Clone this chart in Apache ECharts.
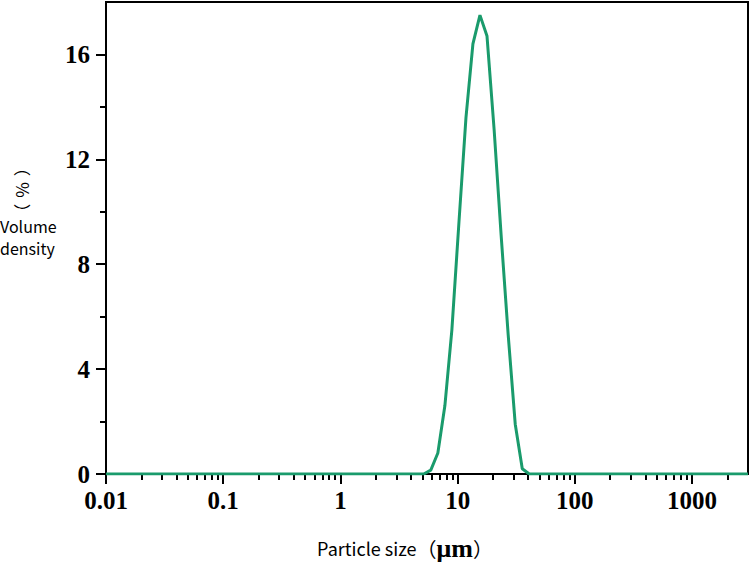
<!DOCTYPE html>
<html><head><meta charset="utf-8">
<script src="https://cdn.jsdelivr.net/npm/echarts@6/dist/echarts.min.js"></script>
<style>html,body{margin:0;padding:0;background:#fff}#c{width:750px;height:563px}</style>
</head><body><div id="c"></div>
<script>
// Particle size (µm) and volume density (%)
const sizes  = [0.01, 5.14, 5.90, 6.78, 7.78, 8.93, 10.26, 11.78, 13.5, 15.5, 17.8, 20.5, 23.5, 27.0, 31.0, 35.6, 40.8, 3000];
const volume = [0,    0,    0.15, 0.8,  2.6,  5.5,  9.6,   13.6,  16.4, 17.5, 16.7, 13.1, 9.1,  5.3,  1.9,  0.2,  0,    0];
const xMajorTicks = [0.01, 0.1, 1, 10, 100, 1000];
const xMinorTicks = [0.02,0.03,0.04,0.05,0.06,0.07,0.08,0.09,
                     0.2,0.3,0.4,0.5,0.6,0.7,0.8,0.9,
                     2,3,4,5,6,7,8,9,
                     20,30,40,50,60,70,80,90,
                     200,300,400,500,600,700,800,900,
                     2000];
const yMajorTicks = [0, 4, 8, 12, 16];
const yMinorTicks = [2, 6, 10, 14];

const chart = echarts.init(document.getElementById('c'), null, {renderer: 'svg'});
const labelFont = {fontFamily: 'Liberation Serif', fontWeight: 'bold', fontSize: 25, color: '#000'};
const xBase = {type: 'log', logBase: 10, min: 0.01, max: 3000, gridIndex: 0, position: 'bottom',
  splitLine: {show: false}, minorTick: {show: false}, minorSplitLine: {show: false}};
const yBase = {type: 'value', min: 0, max: 18, gridIndex: 0, position: 'left',
  splitLine: {show: false}, minorTick: {show: false}};
chart.setOption({
  animation: false,
  grid: {left: 106, right: 2, top: 2, bottom: 89, show: true, borderColor: '#000', borderWidth: 2, backgroundColor: 'transparent'},
  xAxis: [
    Object.assign({}, xBase, {
      axisLine: {show: true, lineStyle: {color: '#000', width: 2}},
      axisTick: {show: true, customValues: xMajorTicks, length: 10, inside: false, lineStyle: {color: '#000', width: 2}},
      axisLabel: Object.assign({show: true, customValues: xMajorTicks, margin: 14,
        formatter: v => String(v)}, labelFont)
    }),
    Object.assign({}, xBase, {
      axisLine: {show: false},
      axisTick: {show: true, customValues: xMinorTicks, length: 6, lineStyle: {color: '#000', width: 2}},
      axisLabel: {show: false}
    })
  ],
  yAxis: [
    Object.assign({}, yBase, {
      axisLine: {show: true, lineStyle: {color: '#000', width: 2}},
      axisTick: {show: true, customValues: yMajorTicks, length: 10, lineStyle: {color: '#000', width: 2}},
      axisLabel: Object.assign({show: true, customValues: yMajorTicks, margin: 16}, labelFont)
    }),
    Object.assign({}, yBase, {
      axisLine: {show: false},
      axisTick: {show: true, customValues: yMinorTicks, length: 6, lineStyle: {color: '#000', width: 2}},
      axisLabel: {show: false}
    })
  ],
  series: [{
    type: 'line', xAxisIndex: 0, yAxisIndex: 0,
    data: sizes.map((s, i) => [s, volume[i]]),
    symbol: 'none', smooth: false,
    lineStyle: {color: '#1a9b6c', width: 3}, z: 5
  }],
  graphic: [
    {type: 'text', x: 21, y: 190, rotation: Math.PI / 2,
      style: {
        text: '{p|（}{q|%}{p|）}',
        align: 'center', verticalAlign: 'middle',
        rich: {
          p: {fontFamily: 'Noto Sans CJK SC', fontSize: 17, color: '#000'},
          q: {fontFamily: 'Noto Sans CJK SC', fontSize: 17, color: '#000', padding: [0, 6, 0, 6]}
        }
      }},
    {type: 'text', x: 0, y: 237,
      style: {text: 'Volume\ndensity', fontFamily: 'Noto Sans CJK SC', fontSize: 16, lineHeight: 22, fill: '#000', align: 'left', verticalAlign: 'middle'}},
    {type: 'text', x: 405, y: 548,
      style: {
        text: '{a|Particle size}{p|（}{b|μm}{p|）}',
        align: 'center', verticalAlign: 'middle',
        rich: {
          a: {fontFamily: 'Noto Sans CJK SC', fontSize: 18, color: '#000'},
          p: {fontFamily: 'Noto Sans CJK SC', fontSize: 20, color: '#000'},
          b: {fontFamily: 'Liberation Serif', fontWeight: 'bold', fontSize: 26, color: '#000'}
        }
      }}
  ]
});
</script>
</body></html>
